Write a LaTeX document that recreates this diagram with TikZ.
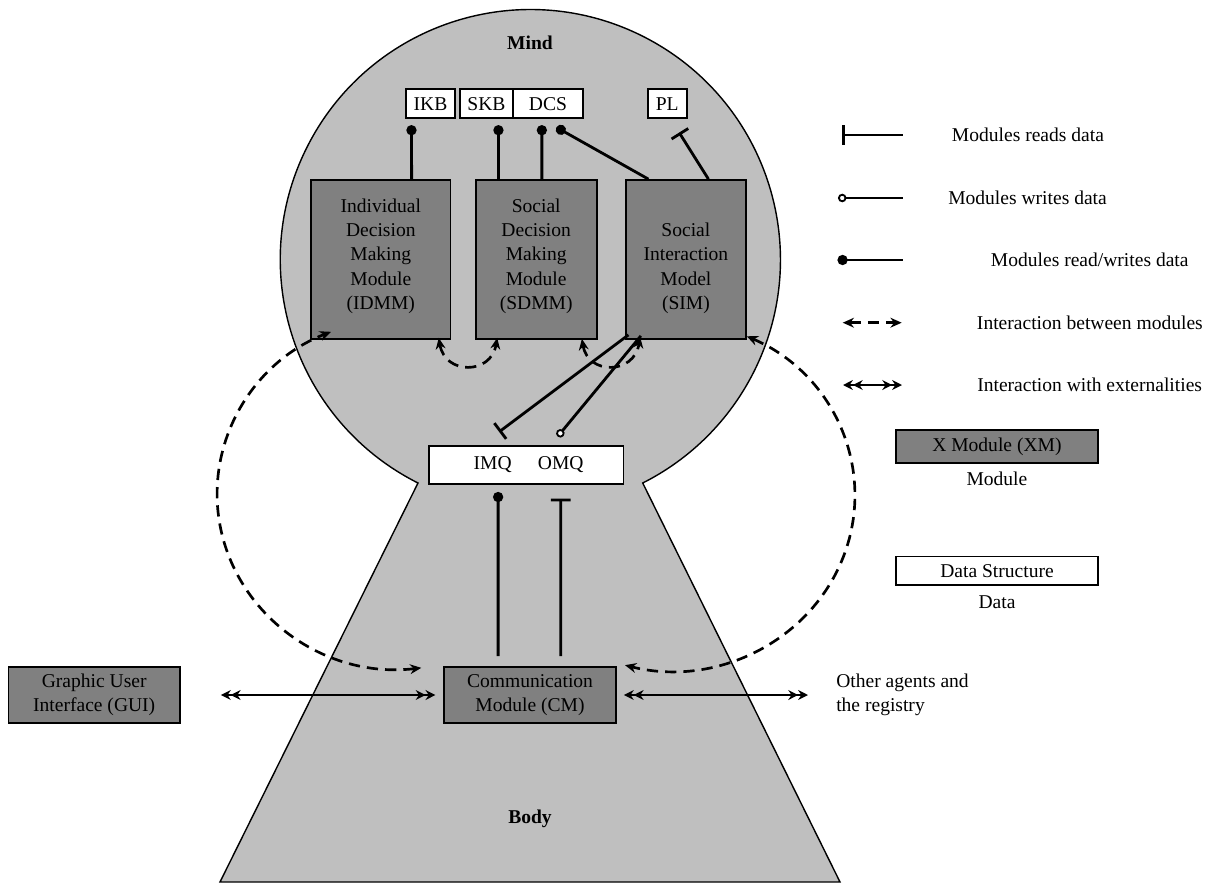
\documentclass[tikz,border=0pt]{standalone}
\usepackage{fontspec}
\setmainfont{Liberation Serif}
\usetikzlibrary{arrows.meta,calc}
\definecolor{headgray}{RGB}{191,191,191}
\definecolor{modgray}{RGB}{128,128,128}
\begin{document}
\begin{tikzpicture}[x=0.025cm,y=-0.025cm,
  font=\fontsize{13.9}{17.3}\selectfont,
  >={Stealth[length=8pt,width=7pt]},
  databox/.style={draw, line width=1.2pt, fill=white, inner sep=0pt, minimum height=0.725cm},
  modbox/.style={draw, line width=1.2pt, fill=modgray, inner sep=0pt},
  modtext/.style={align=center, inner sep=0pt, anchor=south},
  conn/.style={line width=2pt},
  rd/.style={conn, -{Bar[width=14pt]}},
  wr/.style={conn, -{Circle[open, length=6pt, width=6pt, line width=1.3pt, fill=white]}},
  rw/.style={conn, -{Circle[length=7.2pt, width=7.2pt]}},
  inter/.style={line width=1.9pt, dash pattern=on 8pt off 5pt, <->},
  ext/.style={line width=1.5pt, {Stealth[length=7pt,width=7pt]Stealth[length=7pt,width=7pt]}-{Stealth[length=7pt,width=7pt]Stealth[length=7pt,width=7pt]}},
  lbl/.style={inner sep=0pt, anchor=west}
]
\useasboundingbox (0,0) rectangle (1216,882);

% head and body
\filldraw[fill=headgray, draw=black, line width=1pt]
  (418,483) arc[start angle=243.3, end angle=-63.3, radius=6.25cm]
  -- (840,882) -- (220,882) -- cycle;

\node[font=\fontsize{13.9}{17.3}\selectfont\bfseries, inner sep=0pt] (mind) at (530,43) {Mind};
\node[font=\fontsize{13.9}{17.3}\selectfont\bfseries, inner sep=0pt] (body) at (530,819) {Body};

% data boxes
\node[databox, minimum width=1.225cm] (IKB) at (430.5,103.8) {IKB};
\node[databox, minimum width=1.325cm] (SKB) at (486.5,103.8) {SKB};
\node[databox, minimum width=1.75cm] (DCS) at (548,103.8) {DCS};
\node[databox, minimum width=0.975cm] (PL) at (667.2,103.8) {PL};

% module boxes
\node[modbox, minimum width=3.49cm, minimum height=3.975cm] (IDMM) at (380.8,259.5) {};
\node[modbox, minimum width=3.025cm, minimum height=3.975cm] (SDMM) at (536.2,259.5) {};
\node[modbox, minimum width=3.01cm, minimum height=3.975cm] (SIM) at (685.9,259.5) {};
\node[modtext] (IDMMt) at (380.8,314) {Individual\\Decision\\Making\\Module\\(IDMM)};
\node[modtext] (SDMMt) at (536.2,314) {Social\\Decision\\Making\\Module\\(SDMM)};
\node[modtext] (SIMt) at (685.9,314) {Social\\Interaction\\Model\\(SIM)};

% queue box
\node[databox, minimum width=4.86cm, minimum height=0.96cm] (Q) at (526.2,464.9) {};
\node[inner sep=0pt] (IMQ) at (492.7,465) {IMQ};
\node[inner sep=0pt] (OMQ) at (560.7,465) {OMQ};

% communication module and GUI
\node[modbox, minimum width=4.285cm, minimum height=1.415cm, align=center] (CM) at (530,695) {Communication\\Module (CM)};
\node[modbox, minimum width=4.29cm, minimum height=1.415cm, align=center] (GUI) at (94.2,695) {Graphic User\\Interface (GUI)};
\node[inner sep=0pt, anchor=west, align=left] (OA) at (836,695) {Other agents and\\the registry};

% data connectors
\draw[rw] ($(IDMM.north west)+(101.5,0)$) -- ($(IKB.south west)+(6.3,6)$);
\draw[rw] ($(SDMM.north west)+(23.6,0)$) -- ($(SKB.south west)+(39.3,6)$);
\draw[rw] ($(SDMM.north west)+(67,0)$) -- ($(DCS.south west)+(29.7,6)$);
\draw[rw] ($(SIM.north west)+(23.6,0)$) -- ($(DCS.south west)+(44.3,8.2)$);
\draw[rd] ($(SIM.north west)+(83.6,0)$) -- ($(PL.south west)+(32.3,13.4)$);

\draw[rd] ($(SIM.south west)+(3.6,-5)$) -- ($(Q.north west)+(71,-13)$);
\draw[wr] ($(SIM.south west)+(16,-4)$) -- ($(Q.north west)+(129.5,-8.3)$);

\draw[rw] ($(CM.north west)+(54.7,-9.7)$) -- ($(Q.south west)+(70,7)$);
\draw[rd] ($(CM.north west)+(117.4,-9.7)$) -- ($(Q.south west)+(132.7,13.7)$);

% interactions between modules
\draw[inter] ($(IDMM.south east)+(-12.7,-2)$) .. controls (445,375) and (491,375) .. ($(SDMM.south west)+(22.3,-2)$);
\draw[inter] ($(SDMM.south east)+(-15.7,-1)$) .. controls (588,375) and (634,375) .. ($(SIM.south west)+(15.3,-3)$);
\draw[inter] ($(CM.north west)+(-22.1,2)$) arc[start angle=277, end angle=112, x radius=4.55cm, y radius=4.375cm];
\draw[inter] ($(SIM.south east)+(-0.2,-3.6)$) arc[start angle=65.8, end angle=-104.8, x radius=4.575cm, y radius=4.375cm];

% externalities
\draw[ext] ($(GUI.east)+(40,0)$) -- ($(CM.west)+(-8,0)$);
\draw[ext] ($(CM.east)+(7.3,0)$) -- ($(OA.west)+(-28,0)$);

% legend
\coordinate (l1a) at (841.7,135); \coordinate (l1b) at (902.7,135);
\coordinate (l2a) at (838,198); \coordinate (l2b) at (902.7,198);
\coordinate (l3a) at (837.5,260); \coordinate (l3b) at (902.7,260);
\coordinate (l4a) at (842.7,322.7); \coordinate (l4b) at (901.7,322.7);
\coordinate (l5a) at (843,385); \coordinate (l5b) at (902,385);
\draw[rd] (l1b) -- (l1a);
\draw[wr] (l2b) -- (l2a);
\draw[rw] (l3b) -- (l3a);
\draw[inter] (l4a) -- (l4b);
\draw[ext] (l5a) -- (l5b);
\node[lbl] (t1) at (951.7,135) {Modules reads data};
\node[lbl] (t2) at (948,198) {Modules writes data};
\node[lbl] (t3) at (990.7,260) {Modules read/writes data};
\node[lbl] (t4) at (976.7,322.7) {Interaction between modules};
\node[lbl] (t5) at (977,385) {Interaction with externalities};

\node[modbox, minimum width=5.06cm, minimum height=0.82cm] (XM) at (996.9,446.3) {X Module (XM)};
\node[inner sep=0pt] (XMl) at (996.9,479.3) {Module};
\node[databox, minimum width=5.05cm, minimum height=0.71cm] (DS) at (997,570.8) {Data Structure};
\node[inner sep=0pt] (DSl) at (997,601.7) {Data};
\end{tikzpicture}
\end{document}
